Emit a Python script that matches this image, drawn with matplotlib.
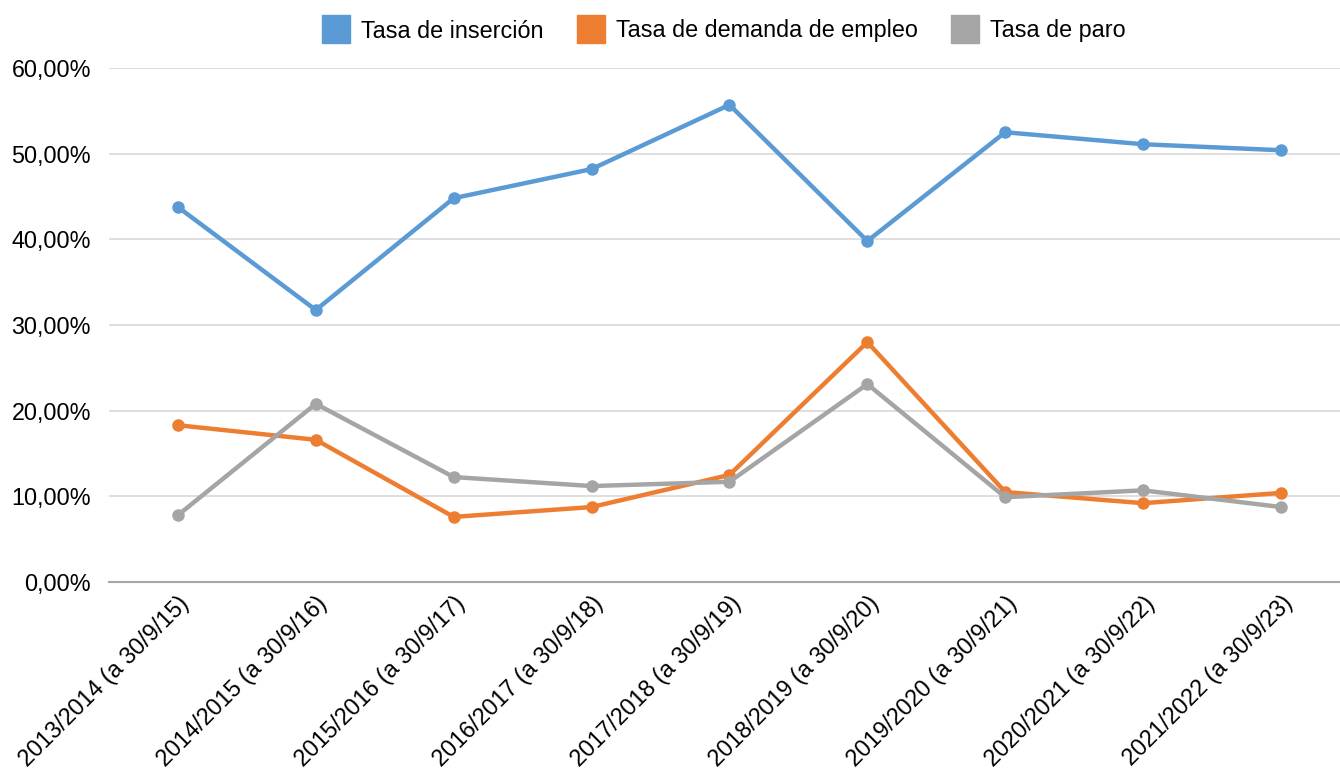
import matplotlib
matplotlib.use("Agg")
import matplotlib.pyplot as plt
from matplotlib.ticker import FuncFormatter
from matplotlib.lines import Line2D

plt.rcParams['font.family'] = ['Liberation Sans', 'DejaVu Sans']

categories = ["2013/2014 (a 30/9/15)", "2014/2015 (a 30/9/16)", "2015/2016 (a 30/9/17)",
              "2016/2017 (a 30/9/18)", "2017/2018 (a 30/9/19)", "2018/2019 (a 30/9/20)",
              "2019/2020 (a 30/9/21)", "2020/2021 (a 30/9/22)", "2021/2022 (a 30/9/23)"]
insercion = [43.77, 31.75, 44.8, 48.2, 55.7, 39.8, 52.5, 51.1, 50.4]
demanda = [18.3, 16.6, 7.6, 8.75, 12.5, 28.0, 10.5, 9.2, 10.4]
paro = [7.8, 20.8, 12.25, 11.2, 11.7, 23.1, 9.9, 10.7, 8.75]
series_names = ["Tasa de inserción", "Tasa de demanda de empleo", "Tasa de paro"]
colors = ["#5B9BD5", "#ED7D31", "#A5A5A5"]
yticks = [0, 10, 20, 30, 40, 50, 60]

FS = 16.8

fig = plt.figure(figsize=(13.4, 7.71), dpi=100)
ax = fig.add_axes([109/1340, 189/771, 1 - 109/1340, (582-68)/771])

x = list(range(len(categories)))
for vals, c, name in zip([insercion, demanda, paro], colors, series_names):
    ax.plot(x, vals, color=c, lw=3.2, marker='o', markersize=8, label=name,
            solid_capstyle='round', zorder=3)

ax.set_xlim(-0.5, 8.428)
ax.set_ylim(0, 60)
ax.set_yticks(yticks)
ax.yaxis.set_major_formatter(FuncFormatter(lambda v, p: f"{v:.2f}".replace('.', ',') + "%"))
ax.grid(axis='y', color='#D9D9D9', lw=1.2)
ax.set_axisbelow(True)
for s in ['top', 'right', 'left']:
    ax.spines[s].set_visible(False)
ax.spines['bottom'].set_color('#A6A6A6')
ax.spines['bottom'].set_linewidth(1.5)
ax.tick_params(axis='y', length=0, pad=13, labelsize=FS, colors='#000000')
ax.tick_params(axis='x', length=0, pad=7, labelsize=FS)
ax.set_xticks(x)
ax.set_xticklabels(categories, rotation=45, ha='right', rotation_mode='anchor')

handles = [Line2D([], [], ls='none', marker='s', markersize=20.5, color=c) for c in colors]
fig.legend(handles, series_names, loc='center', bbox_to_anchor=(725/1340, 1 - 31/771),
           ncol=3, frameon=False, fontsize=FS, handlelength=1.0, handletextpad=0.55,
           columnspacing=1.55)

fig.savefig("out.png", dpi=100)
